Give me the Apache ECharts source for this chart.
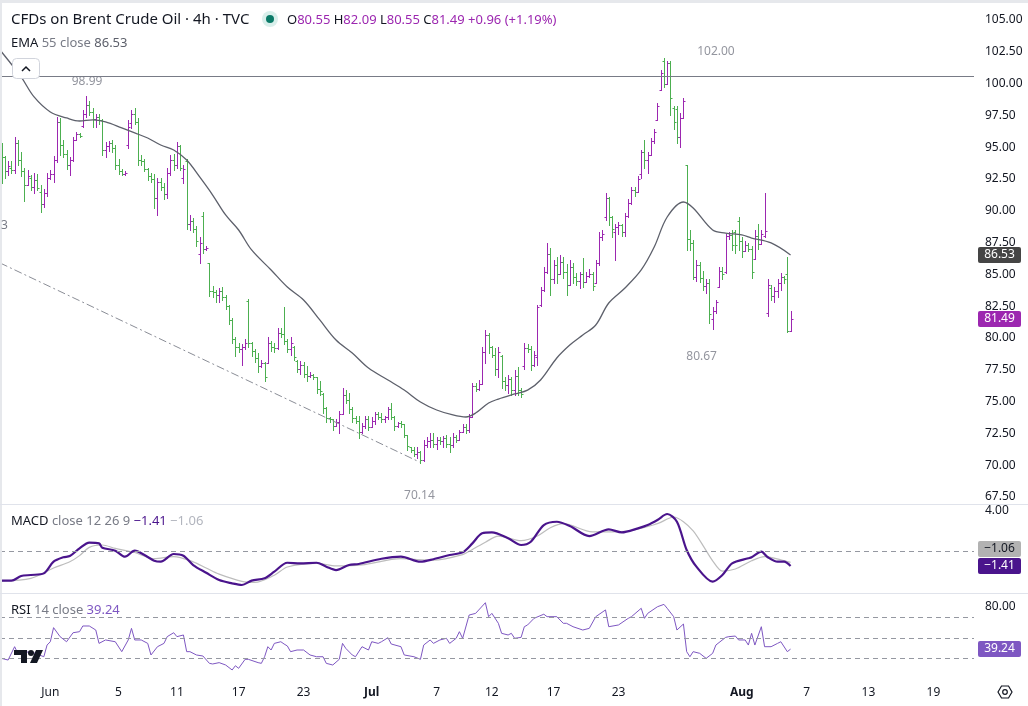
<!DOCTYPE html>
<html>
<head>
<meta charset="utf-8">
<script src="https://cdn.jsdelivr.net/npm/echarts@6/dist/echarts.min.js"></script>
<style>
html,body{margin:0;padding:0;background:#fff;}
#main{width:1028px;height:706px;}
</style>
</head>
<body>
<div id="main"></div>
<script>
// ---- data (4h bars, index 0 = first visible bar) ----
var opens = [
95.0,94.2,93.1,93.4,93.2,95.3,94.0,93.1,92.0,92.6,
91.9,92.4,91.5,90.5,91.4,92.6,92.9,94.0,97.0,95.2,
94.5,93.6,94.0,95.6,96.0,96.7,97.6,98.3,97.8,97.2,
97.4,97.1,94.8,95.1,95.3,94.9,93.6,93.1,92.9,95.2,
96.9,97.6,97.0,94.0,93.9,93.3,92.7,92.5,91.0,92.3,
91.9,91.3,93.0,94.0,93.6,95.1,92.6,93.9,89.0,89.2,
88.6,86.6,89.6,87.0,85.9,83.7,83.6,83.4,83.7,83.2,
82.5,81.4,79.9,79.3,79.1,79.3,82.9,79.6,79.0,78.4,
77.8,78.0,78.0,79.6,79.3,79.2,80.4,80.3,79.8,79.1,
79.3,78.2,77.6,77.9,77.2,77.0,77.1,76.9,76.0,75.6,
74.5,73.7,73.6,73.1,73.4,74.0,75.5,75.1,74.4,73.7,
73.5,72.6,73.1,73.6,73.0,73.5,74.0,73.8,73.6,73.8,
74.4,73.8,73.1,73.3,73.2,72.4,71.4,71.2,70.9,71.0,
70.4,71.6,71.9,72.0,71.7,72.0,71.9,72.1,71.7,71.6,
72.2,72.0,72.6,73.0,72.8,73.8,76.2,76.0,76.4,78.9,
80.2,79.3,78.7,77.6,78.6,76.6,76.3,76.8,75.9,77.0,
75.9,77.8,79.2,79.1,77.9,78.5,82.6,83.8,85.2,86.6,
84.6,85.7,85.0,86.0,85.2,84.2,85.6,84.8,84.5,85.0,
84.4,84.9,85.0,84.3,85.9,87.9,89.5,91.0,89.5,88.3,
88.7,88.9,88.3,89.6,90.6,91.6,91.5,92.9,94.6,94.0,
94.4,95.5,97.1,99.5,101.8,100.0,101.6,98.1,98.0,95.8,
97.3,93.6,87.8,87.5,84.8,85.7,84.7,84.1,84.3,81.5,
82.1,84.0,85.3,85.2,88.0,88.1,88.3,89.2,87.6,86.8,
87.3,87.0,86.2,88.0,87.4,88.0,82.0,83.9,83.3,83.7,
84.3,84.8,85.0,80.55
];
var highs = [
95.3,94.3,93.9,93.9,95.8,95.6,94.6,93.4,93.2,92.8,
93.0,92.9,92.0,91.7,93.0,93.2,94.3,97.4,97.3,95.6,
94.8,94.2,95.8,96.2,96.1,97.9,98.99,98.6,98.1,97.6,
97.6,97.2,95.4,95.5,95.6,95.2,94.1,93.3,93.1,97.1,
97.9,98.1,97.3,94.4,94.1,93.4,93.0,92.9,92.6,92.6,
92.2,93.4,94.4,94.5,95.4,95.2,93.6,94.1,89.7,89.4,
88.8,87.9,89.9,87.2,85.9,84.1,83.8,83.9,84.0,83.4,
82.6,81.6,80.1,79.6,79.5,79.9,83.1,79.7,79.1,78.8,
78.3,78.1,80.1,79.8,79.6,80.8,80.8,82.4,79.9,80.1,
79.4,78.3,78.2,78.1,77.8,77.3,77.2,76.9,76.6,75.7,
74.6,73.8,73.6,73.6,74.3,76.1,75.9,75.7,74.6,73.9,
73.9,73.3,73.9,73.9,73.8,74.2,74.2,74.1,73.9,74.6,
74.9,73.9,73.4,73.5,73.2,72.4,71.4,71.4,71.4,71.1,
72.0,72.2,72.5,72.5,72.2,72.2,72.3,72.4,72.2,72.5,
72.4,72.8,73.2,73.2,74.0,76.5,76.5,76.7,79.3,80.6,
80.4,79.4,79.2,79.3,78.7,76.9,77.1,76.9,77.5,77.7,
76.1,79.6,79.5,79.4,79.0,82.6,84.0,85.6,87.5,87.1,
86.1,86.4,86.5,86.4,85.8,86.1,85.9,85.1,85.2,86.3,
85.2,85.4,85.2,86.1,88.3,88.5,91.4,91.1,89.6,89.0,
89.1,89.0,89.8,90.9,91.9,91.9,92.7,94.8,95.6,94.6,
95.7,96.4,98.5,101.1,102.0,101.8,101.8,98.2,98.2,97.7,
98.9,93.6,88.5,87.7,86.1,86.0,85.3,84.6,84.6,82.4,
83.0,85.6,85.6,88.2,88.3,88.5,88.5,89.5,87.9,87.6,
87.5,87.2,88.5,89.0,88.5,91.4,84.6,84.2,84.0,84.6,
85.1,84.9,86.4,82.09
];
var lows = [
92.2,92.6,92.8,93.0,93.0,93.6,92.7,90.8,92.0,91.6,
91.4,91.6,89.9,90.3,91.2,92.5,92.3,93.8,94.4,94.2,
93.3,92.8,93.9,95.6,95.8,96.6,97.4,97.5,96.6,96.6,
96.8,94.4,94.2,94.7,94.6,93.3,92.9,92.8,92.8,94.9,
96.5,96.8,93.6,93.6,93.1,92.4,92.3,90.2,89.7,91.6,
90.9,91.0,92.8,93.2,93.4,93.2,92.2,88.6,88.5,88.3,
87.2,85.9,86.7,86.9,83.3,83.2,82.8,82.8,83.0,82.3,
81.1,79.6,78.6,78.9,77.9,79.1,79.3,78.6,78.1,77.3,
77.7,76.6,78.0,79.0,78.9,79.1,80.1,79.5,78.9,78.7,
78.3,77.3,77.2,76.9,76.6,76.9,76.8,75.7,75.5,74.1,
73.4,73.4,72.8,73.1,72.5,74.0,74.9,74.1,73.4,73.3,
72.1,72.5,72.9,72.8,73.0,73.2,73.6,73.4,73.4,73.6,
73.6,72.8,73.0,73.0,72.2,71.2,71.0,70.7,70.6,70.14,
70.3,71.4,71.4,71.4,71.3,71.7,71.4,71.4,71.0,71.4,
71.8,72.0,72.6,72.5,72.6,73.8,75.8,75.9,76.4,78.0,
78.8,78.5,77.1,76.9,76.1,75.9,75.7,75.5,75.5,75.5,
75.4,77.6,78.9,77.5,77.8,77.9,82.5,83.7,85.1,83.4,
84.3,84.3,85.0,84.7,83.4,84.2,84.3,84.2,83.9,84.0,
84.4,84.8,83.8,84.3,85.7,87.7,89.3,88.9,87.9,86.1,
88.2,88.0,88.0,89.5,90.5,91.2,91.5,92.6,93.4,93.0,
94.4,95.3,97.1,99.5,99.7,100.0,97.5,96.4,95.3,95.0,
97.3,86.9,86.9,84.6,84.5,84.4,83.8,83.5,81.2,80.67,
82.0,84.0,84.6,85.1,87.8,86.9,86.7,86.9,86.4,86.8,
86.8,84.7,86.2,87.0,87.4,87.9,81.7,83.0,82.8,83.2,
83.8,84.3,80.5,80.55
];
var closes = [
94.2,93.1,93.5,93.2,95.3,94.0,93.1,92.0,92.7,91.9,
92.4,91.8,90.5,91.4,92.6,92.9,94.0,97.0,95.2,94.5,
93.6,94.0,95.6,96.0,95.9,97.6,98.3,97.8,97.2,97.4,
97.1,94.8,95.1,95.3,94.9,93.6,93.1,92.9,93.0,96.6,
97.6,97.0,94.0,93.9,93.3,92.7,92.5,91.0,92.3,91.9,
91.3,93.0,94.0,93.6,95.1,93.4,93.3,89.0,89.2,88.6,
87.6,87.5,87.0,87.1,83.7,83.6,83.4,83.7,83.2,82.5,
81.4,79.9,79.3,79.1,79.3,79.6,79.6,79.0,78.4,77.8,
78.0,76.9,79.6,79.3,79.2,80.4,80.3,79.8,79.1,79.6,
78.5,77.6,77.9,77.2,77.0,77.1,76.9,76.0,75.8,74.5,
73.7,73.6,73.1,73.4,74.0,75.5,75.1,74.4,73.7,73.5,
72.6,73.1,73.6,73.0,73.5,74.0,73.8,73.6,73.8,74.4,
73.8,73.1,73.3,73.2,72.4,71.5,71.2,70.9,71.0,70.4,
71.6,71.9,72.0,71.7,72.0,71.9,72.1,71.7,71.6,72.2,
72.0,72.6,73.0,72.8,73.8,76.2,76.0,76.4,78.9,80.2,
79.3,78.7,77.6,78.9,76.6,76.3,76.8,75.9,77.0,75.9,
75.6,79.2,79.1,77.9,78.7,82.4,83.8,85.2,86.6,84.6,
85.7,85.0,86.0,85.2,84.2,85.6,84.8,84.5,85.0,84.4,
84.9,85.0,84.1,85.9,87.9,88.2,91.0,89.5,88.6,88.7,
88.9,88.3,89.6,90.6,91.6,91.5,92.5,94.6,94.0,94.4,
95.5,96.2,98.2,100.8,100.0,101.6,98.9,97.0,95.8,97.3,
98.6,87.8,87.5,84.8,85.7,84.7,84.1,84.3,81.9,82.1,
82.8,85.3,85.0,88.0,88.1,87.3,87.3,87.6,86.8,87.3,
87.0,85.2,88.0,87.4,88.2,88.4,84.2,83.3,83.7,84.3,
84.8,84.6,80.53,81.49
];

// EMA 55 as drawn (bar index / value)
var emaAt = [0,6,10,15,20,24,28,32,37,41,45,49,53,57,61,65,69,73,77,83,88,93,98,103,108,113,119,124,129,134,139,143,146,150,153,158,162,166,171,175,179,183,187,192,197,201,205,210,213,219,223,228,231,237,243];
var ema = [102.48,100.52,98.95,97.77,97.30,97.06,97.14,96.98,96.51,96.12,95.72,95.17,94.78,93.99,92.66,91.24,89.67,88.49,86.92,85.35,84.01,82.99,81.42,79.84,78.82,77.64,76.70,75.91,74.97,74.34,73.95,73.79,74.10,74.89,75.2,75.6,75.9,76.70,78.43,79.45,80.24,81.02,82.75,83.93,85.35,87.15,89.51,90.69,90.22,88.49,88.25,88.10,87.86,87.47,86.53];

// MACD 12 26 9
var macdAt = [0,3,6,9,13,16,19,21,24,27,30,31,35,38,41,44,47,49,53,56,59,63,67,71,74,77,81,84,88,92,97,100,103,107,110,117,123,129,133,138,142,145,148,151,156,160,163,167,171,175,181,187,191,196,199,202,205,208,211,214,219,222,225,230,231,234,236,239,241,243];
var macd = [-2.83,-2.83,-2.38,-2.28,-2.12,-0.99,-0.56,-0.44,0.31,0.86,0.79,0.37,0.08,-0.5,0.08,-0.34,-0.89,-0.99,-0.24,-0.41,-1.31,-2.06,-2.77,-3.09,-3.25,-2.83,-2.6,-1.96,-1.09,-1.15,-1.09,-1.47,-1.8,-1.31,-1.21,-0.7,-0.5,-0.99,-0.75,-0.34,-0.08,0.79,1.77,1.86,1.28,0.63,0.95,2.57,2.89,2.48,1.5,2.15,1.86,2.25,2.57,3.06,3.64,2.89,0.15,-1.47,-2.93,-2.28,-1.15,-0.66,-0.56,-0.02,-0.56,-0.99,-0.99,-1.41];
var signalAt = [0,9,16,21,24,27,31,35,41,47,53,59,63,67,74,78,84,88,97,103,111,123,133,142,145,149,153,160,165,169,173,182,192,202,207,210,213,216,219,222,226,231,235,240,243];
var signal = [-2.85,-2.6,-1.6,-1.0,-0.4,0.4,0.63,0.3,-0.1,-0.7,-0.5,-1.0,-1.6,-2.2,-2.9,-3.0,-2.3,-1.5,-1.15,-1.4,-1.3,-0.7,-0.85,-0.3,0.2,0.9,1.5,1.05,1.5,2.3,2.7,1.9,1.95,2.7,3.35,2.9,2.0,0.6,-0.9,-1.9,-1.7,-0.9,-0.5,-0.8,-1.06];

// RSI 14
var rsiAt = [0,2,4,5,9,13,14,15,16,18,20,22,24,25,27,29,30,32,35,37,39,40,41,43,45,46,48,50,51,53,54,56,57,58,60,62,64,65,67,69,71,72,73,75,76,79,80,81,82,83,84,86,87,88,89,91,93,95,97,99,100,102,104,105,106,108,109,111,113,114,116,117,119,120,123,124,127,129,130,132,133,135,137,138,140,141,142,144,146,149,150,151,153,154,156,157,158,160,161,162,164,167,168,171,173,174,176,179,181,183,186,187,190,193,194,197,198,199,202,204,205,207,208,210,211,212,213,215,217,219,220,223,224,226,227,229,230,231,232,234,235,237,239,240,242,243];
var rsi = [30.3,28.7,41.6,35.2,36.8,31.9,43.2,46.4,60,51.3,46.4,55.1,56.1,61.6,61.6,57.7,44.8,48.1,46.4,36.8,48.1,59.3,48.1,48.1,44.8,33.6,41.6,44.8,51.3,55.1,51.3,52.9,36.8,36.8,33.6,32.6,25.5,24.9,26.2,23.9,19.1,23.2,20.7,29.4,29.4,26.2,25.5,31.9,41.6,38.4,44.8,46.4,44.2,42.3,36.8,38.4,38.4,33.6,31.9,31.9,25.5,23.9,29.4,44.8,40,33.6,31.9,41.6,38.4,46.4,44.8,46.4,50.3,44.2,41.6,33.6,31.9,29.4,43.2,48.1,44.8,48.1,49.7,44.8,49.7,56.1,49.7,72.2,73.8,84.1,70.6,73.8,64.2,54.5,52.9,54.5,49.7,50.6,60.9,62.6,69,73,70.6,70.6,64.2,64.2,60.9,57.7,59.3,70.6,77.1,60.9,62.6,69,70.6,78.7,69,73.8,80.2,82.5,78.7,70.6,57.7,63.5,36.8,31.9,36.8,35.2,30.3,35.2,43.2,50.6,51.3,51.9,48.1,48.1,43.2,54.5,43.2,60.9,41.6,41.6,44.8,46.4,36.8,39.24];

// drawings
var resistance = 100.6;
var trendBars = [-0.5, 128.7];
var trendPrices = [85.9, 70.25];
var pivotBars = [26, 204, 219, 129];
var pivotPrices = [98.99, 102.00, 80.67, 70.14];

// axes
var priceTicks = [67.5,70,72.5,75,77.5,80,82.5,85,87.5,90,92.5,95,97.5,100,102.5,105];
var macdTicks = [4];
var rsiTicks = [80];
var rsiBands = [70, 50, 30];
var dateTicks = ['Jun','5','11','17','23','Jul','7','12','17','23','Aug','7','13','19'];
var dateTickBars = [15,36,54,73,93,114,134,151,170,190,228,248,267,287];
var boldTicks = ['Jul','Aug'];

// ---- chart ----
var FONT = '"Noto Sans", sans-serif';
var UP = '#9c27b0', DOWN = '#4caf50';
var TXT = '#131722', MUTED = '#787b86';
var last = closes.length - 1;

var chart = echarts.init(document.getElementById('main'));

function zip(at, vals) {
	return at.map(function (b, k) { return [b, vals[k]]; });
}
function fmt(v) {
	return (v < 0 ? '\u2212' : '') + Math.abs(v).toFixed(2);
}

var ohlc = opens.map(function (o, i) { return [i, o, highs[i], lows[i], closes[i]]; });

function renderBar(params, api) {
	var i = api.value(0);
	var o = api.value(1), h = api.value(2), l = api.value(3), c = api.value(4);
	var ph = api.coord([i, h]), pl = api.coord([i, l]);
	var po = api.coord([i, o]), pc = api.coord([i, c]);
	var x = Math.round(ph[0]) + 0.5;
	var st = { stroke: c >= o ? UP : DOWN, lineWidth: 1 };
	var yo = Math.round(po[1]) + 0.5, yc = Math.round(pc[1]) + 0.5;
	return {
		type: 'group',
		children: [
			{ type: 'line', shape: { x1: x, y1: Math.round(ph[1]), x2: x, y2: Math.round(pl[1]) + 1 }, style: st },
			{ type: 'line', shape: { x1: x - 2, y1: yo, x2: x, y2: yo }, style: st },
			{ type: 'line', shape: { x1: x, y1: yc, x2: x + 2, y2: yc }, style: st }
		]
	};
}

function xAxis(gi, withLabels) {
	return {
		type: 'value', gridIndex: gi, min: -0.5, max: 299.5,
		axisLine: { show: false }, axisTick: { show: false }, splitLine: { show: false },
		axisLabel: withLabels ? {
			customValues: dateTickBars,
			margin: 7,
			fontSize: 12, color: TXT, fontFamily: FONT,
			formatter: function (v) {
				var t = dateTicks[dateTickBars.indexOf(v)];
				if (t === undefined) return '';
				return boldTicks.indexOf(t) >= 0 ? '{b|' + t + '}' : t;
			},
			rich: { b: { fontWeight: 'bold', fontSize: 12, color: TXT, fontFamily: FONT } }
		} : { show: false }
	};
}

function yAxis(gi, min, max, ticks) {
	return {
		type: 'value', gridIndex: gi, position: 'right', min: min, max: max,
		axisLine: { show: false }, axisTick: { show: false }, splitLine: { show: false },
		axisLabel: {
			customValues: ticks, margin: 11, fontSize: 12, color: TXT, fontFamily: FONT,
			formatter: function (v) { return v.toFixed(2); }
		}
	};
}

var dashed = { color: '#9598a1', width: 1, type: [5, 4] };
var pivotLabelLayout = [[1, -15], [52, -7], [-11, 27], [-1, 32]];

var option = {
	animation: false,
	backgroundColor: '#fff',
	textStyle: { fontFamily: FONT },
	grid: [
		{ left: 0, right: 54, top: 0, height: 504 },
		{ left: 0, right: 54, top: 505, height: 87 },
		{ left: 0, right: 54, top: 594, height: 86 }
	],
	xAxis: [xAxis(0, false), xAxis(1, false), xAxis(2, true)],
	yAxis: [
		yAxis(0, 66.95, 106.57, priceTicks),
		yAxis(1, -3.93, 4.515, macdTicks),
		yAxis(2, 9.42, 92.51, rsiTicks)
	],
	series: [
		{
			name: 'CFDs on Brent Crude Oil', type: 'custom', renderItem: renderBar,
			xAxisIndex: 0, yAxisIndex: 0,
			dimensions: ['i', 'open', 'high', 'low', 'close'],
			encode: { x: 0, y: [1, 2, 3, 4] },
			data: ohlc, z: 3
		},
		{
			name: 'EMA 55', type: 'line', xAxisIndex: 0, yAxisIndex: 0,
			data: zip(emaAt, ema), showSymbol: false, smooth: 0.35,
			lineStyle: { color: '#5d606b', width: 1.3 }, z: 4,
			markLine: {
				silent: true, symbol: ['none', 'none'], label: { show: false },
				lineStyle: { color: '#787b86', width: 1, type: 'solid' },
				data: [{ yAxis: resistance }]
			}
		},
		{
			name: 'trend', type: 'line', xAxisIndex: 0, yAxisIndex: 0,
			data: zip(trendBars, trendPrices), showSymbol: false,
			lineStyle: { color: '#8a8d96', width: 1, type: [8, 3, 2, 3] }
		},
		{
			name: 'pivots', type: 'scatter', xAxisIndex: 0, yAxisIndex: 0, symbolSize: 0,
			data: pivotBars.map(function (b, k) {
				return {
					value: [b, pivotPrices[k]],
					label: {
						show: true, position: 'inside', offset: pivotLabelLayout[k],
						formatter: pivotPrices[k].toFixed(2),
						color: MUTED, fontSize: 12, fontFamily: FONT
					}
				};
			})
		},
		{
			name: 'Signal', type: 'line', xAxisIndex: 1, yAxisIndex: 1,
			data: zip(signalAt, signal), showSymbol: false, smooth: 0.3,
			lineStyle: { color: '#bdbdbd', width: 1.2 },
			markLine: {
				silent: true, symbol: ['none', 'none'], label: { show: false },
				lineStyle: dashed, data: [{ yAxis: 0 }]
			}
		},
		{
			name: 'MACD', type: 'line', xAxisIndex: 1, yAxisIndex: 1,
			data: zip(macdAt, macd), showSymbol: false, smooth: 0.3,
			lineStyle: { color: '#4a148c', width: 2.2 }
		},
		{
			name: 'RSI', type: 'line', xAxisIndex: 2, yAxisIndex: 2,
			data: zip(rsiAt, rsi), showSymbol: false,
			lineStyle: { color: '#7e57c2', width: 1 },
			markLine: {
				silent: true, symbol: ['none', 'none'], label: { show: false },
				lineStyle: dashed,
				data: rsiBands.map(function (v) { return { yAxis: v }; })
			}
		}
	]
};

chart.setOption(option);

// ---- overlay: legends, price tags, chrome ----
function py(grid, v) { return chart.convertToPixel({ gridIndex: grid }, [0, v])[1]; }

function tag(y, text, bg, fg) {
	return [
		{ type: 'rect', z: 100, shape: { x: 978, y: Math.round(y) - 8, width: 43, height: 16, r: 2 }, style: { fill: bg } },
		{ type: 'text', z: 101, style: { x: 999.5, y: Math.round(y), text: text, fill: fg, font: '12px ' + FONT, align: 'center', verticalAlign: 'middle' } }
	];
}

var prevClose = closes[last - 1];
var chg = closes[last] - prevClose;
var pct = chg / prevClose * 100;
var ohlcText = '{k|O}{v|' + opens[last].toFixed(2) + '} {k|H}{v|' + highs[last].toFixed(2) +
	'} {k|L}{v|' + lows[last].toFixed(2) + '} {k|C}{v|' + closes[last].toFixed(2) +
	'} {v|' + (chg >= 0 ? '+' : '') + chg.toFixed(2) + ' (' + (pct >= 0 ? '+' : '') + pct.toFixed(2) + '%)}';

var richBase = function (size) {
	return {
		k: { fill: TXT, fontSize: size, fontFamily: FONT },
		v: { fill: UP, fontSize: size, fontFamily: FONT },
		d: { fill: TXT, fontSize: size, fontFamily: FONT },
		m: { fill: MUTED, fontSize: size, fontFamily: FONT },
		e: { fill: '#5d606b', fontSize: size, fontFamily: FONT },
		p: { fill: '#4a148c', fontSize: size, fontFamily: FONT },
		s: { fill: '#b2b5be', fontSize: size, fontFamily: FONT },
		r: { fill: '#7e57c2', fontSize: size, fontFamily: FONT }
	};
};

var macdLast = macd[macd.length - 1], sigLast = signal[signal.length - 1];
var yMacd = py(1, macdLast);

var g = [
	{ type: 'rect', z: 100, shape: { x: 0, y: 0, width: 1028, height: 3 }, style: { fill: '#e6e8ec' } },
	{ type: 'rect', z: 100, shape: { x: 0, y: 0, width: 2, height: 706 }, style: { fill: '#e6e8ec' } },
	{ type: 'line', z: 100, shape: { x1: 0, y1: 504.5, x2: 1028, y2: 504.5 }, style: { stroke: '#e0e3eb', lineWidth: 1 } },
	{ type: 'line', z: 100, shape: { x1: 0, y1: 593.5, x2: 1028, y2: 593.5 }, style: { stroke: '#e0e3eb', lineWidth: 1 } },
	{ type: 'text', z: 100, style: { x: 11, y: 20, text: 'CFDs on Brent Crude Oil \u00b7 4h \u00b7 TVC', fill: TXT, font: '15px ' + FONT, verticalAlign: 'middle' } },
	{ type: 'circle', z: 100, shape: { cx: 270, cy: 19, r: 8 }, style: { fill: '#d9efeb' } },
	{ type: 'circle', z: 101, shape: { cx: 270, cy: 19, r: 4 }, style: { fill: '#0b7a68' } },
	{ type: 'text', z: 100, style: { x: 287, y: 20, text: ohlcText, rich: richBase(13), verticalAlign: 'middle' } },
	{ type: 'text', z: 100, style: { x: 11, y: 43, text: '{d|EMA} {m|55 close} {e|' + ema[ema.length - 1].toFixed(2) + '}', rich: richBase(13), verticalAlign: 'middle' } },
	{ type: 'rect', z: 100, shape: { x: 12.5, y: 58.5, width: 27, height: 20, r: 4 }, style: { fill: '#fff', stroke: '#d1d4dc', lineWidth: 1 } },
	{ type: 'polyline', z: 101, shape: { points: [[22, 71], [26, 67], [30, 71]] }, style: { stroke: TXT, lineWidth: 1.5, fill: null } },
	{ type: 'text', z: 100, style: { x: 1, y: 226, text: '3', fill: MUTED, font: '12px ' + FONT, verticalAlign: 'middle' } },
	{ type: 'text', z: 100, style: { x: 11, y: 521, text: '{d|MACD} {m|close 12 26 9} {p|' + fmt(macdLast) + '} {s|' + fmt(sigLast) + '}', rich: richBase(13), verticalAlign: 'middle' } },
	{ type: 'text', z: 100, style: { x: 11, y: 610, text: '{d|RSI} {m|14 close} {r|' + rsi[rsi.length - 1].toFixed(2) + '}', rich: richBase(13), verticalAlign: 'middle' } },
	// TradingView mark
	{ type: 'rect', z: 100, shape: { x: 14, y: 650, width: 13, height: 5 }, style: { fill: TXT } },
	{ type: 'rect', z: 100, shape: { x: 21, y: 650, width: 6, height: 13 }, style: { fill: TXT } },
	{ type: 'circle', z: 100, shape: { cx: 31, cy: 653, r: 3 }, style: { fill: TXT } },
	{ type: 'polygon', z: 100, shape: { points: [[36, 650], [43, 650], [37, 663], [30, 663]] }, style: { fill: TXT } },
	// settings icon
	{ type: 'polygon', z: 100, shape: { points: [[998, 692], [1001.5, 686], [1008.5, 686], [1012, 692], [1008.5, 698], [1001.5, 698]] }, style: { fill: null, stroke: TXT, lineWidth: 1.2 } },
	{ type: 'circle', z: 100, shape: { cx: 1005, cy: 692, r: 2.3 }, style: { fill: null, stroke: TXT, lineWidth: 1.2 } }
];

g = g.concat(tag(py(0, ema[ema.length - 1]), ema[ema.length - 1].toFixed(2), '#454545', '#fff'));
g = g.concat(tag(py(0, closes[last]), closes[last].toFixed(2), UP, '#fff'));
g = g.concat(tag(yMacd - 17, fmt(sigLast), '#b2b2b2', TXT));
g = g.concat(tag(yMacd, fmt(macdLast), '#4a148c', '#fff'));
g = g.concat(tag(py(2, rsi[rsi.length - 1]), rsi[rsi.length - 1].toFixed(2), '#7e57c2', '#fff'));

chart.setOption({ graphic: g });
</script>
</body>
</html>
